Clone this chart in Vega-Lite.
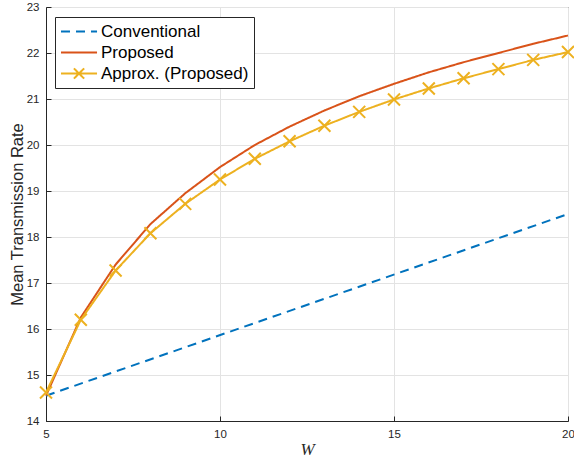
{
  "$schema": "https://vega.github.io/schema/vega-lite/v6.json",
  "width": 522,
  "height": 414,
  "autosize": "none",
  "padding": {"left": 46, "top": 7, "right": 6, "bottom": 40},
  "background": "white",
  "config": {
    "view": {"stroke": "#262626", "strokeWidth": 1},
    "font": "Liberation Sans",
    "axis": {
      "labelFont": "Liberation Sans",
      "labelFontSize": 11.5,
      "labelColor": "#262626",
      "domainColor": "#262626",
      "tickColor": "#262626",
      "gridColor": "#e3e3e3",
      "gridOpacity": 1,
      "titleColor": "#262626",
      "titleFontWeight": "normal"
    }
  },
  "data": {
    "values": [
      {"W": 5, "rate": 14.55, "series": "Conventional"},
      {"W": 20, "rate": 18.5, "series": "Conventional"},
      {"W": 5, "rate": 14.55, "series": "Proposed"},
      {"W": 6, "rate": 16.25, "series": "Proposed"},
      {"W": 7, "rate": 17.4, "series": "Proposed"},
      {"W": 8, "rate": 18.28, "series": "Proposed"},
      {"W": 9, "rate": 18.95, "series": "Proposed"},
      {"W": 10, "rate": 19.52, "series": "Proposed"},
      {"W": 11, "rate": 20.0, "series": "Proposed"},
      {"W": 12, "rate": 20.4, "series": "Proposed"},
      {"W": 13, "rate": 20.75, "series": "Proposed"},
      {"W": 14, "rate": 21.06, "series": "Proposed"},
      {"W": 15, "rate": 21.33, "series": "Proposed"},
      {"W": 16, "rate": 21.58, "series": "Proposed"},
      {"W": 17, "rate": 21.8, "series": "Proposed"},
      {"W": 18, "rate": 22.0, "series": "Proposed"},
      {"W": 19, "rate": 22.2, "series": "Proposed"},
      {"W": 20, "rate": 22.38, "series": "Proposed"},
      {"W": 5, "rate": 14.62, "series": "Approx. (Proposed)"},
      {"W": 6, "rate": 16.2, "series": "Approx. (Proposed)"},
      {"W": 7, "rate": 17.27, "series": "Approx. (Proposed)"},
      {"W": 8, "rate": 18.08, "series": "Approx. (Proposed)"},
      {"W": 9, "rate": 18.72, "series": "Approx. (Proposed)"},
      {"W": 10, "rate": 19.25, "series": "Approx. (Proposed)"},
      {"W": 11, "rate": 19.7, "series": "Approx. (Proposed)"},
      {"W": 12, "rate": 20.08, "series": "Approx. (Proposed)"},
      {"W": 13, "rate": 20.42, "series": "Approx. (Proposed)"},
      {"W": 14, "rate": 20.72, "series": "Approx. (Proposed)"},
      {"W": 15, "rate": 20.99, "series": "Approx. (Proposed)"},
      {"W": 16, "rate": 21.23, "series": "Approx. (Proposed)"},
      {"W": 17, "rate": 21.45, "series": "Approx. (Proposed)"},
      {"W": 18, "rate": 21.65, "series": "Approx. (Proposed)"},
      {"W": 19, "rate": 21.85, "series": "Approx. (Proposed)"},
      {"W": 20, "rate": 22.02, "series": "Approx. (Proposed)"}
    ]
  },
  "encoding": {
    "x": {
      "field": "W",
      "type": "quantitative",
      "scale": {"domain": [5, 20], "nice": false, "zero": false},
      "axis": {
        "values": [5, 10, 15, 20],
        "title": "W",
        "titleFont": "Liberation Serif",
        "titleFontStyle": "italic",
        "titleFontSize": 17,
        "titlePadding": 2,
        "tickSize": -5,
        "labelPadding": 12,
        "labelFlush": false
      }
    },
    "y": {
      "field": "rate",
      "type": "quantitative",
      "scale": {"domain": [14, 23], "nice": false, "zero": false},
      "axis": {
        "values": [14, 15, 16, 17, 18, 19, 20, 21, 22, 23],
        "title": "Mean Transmission Rate",
        "titleFontSize": 16.5,
        "titlePadding": 1,
        "tickSize": -5,
        "labelPadding": 12,
        "labelFlush": false
      }
    }
  },
  "layer": [
    {
      "mark": {"type": "line", "strokeWidth": 2},
      "encoding": {
        "color": {
          "field": "series",
          "type": "nominal",
          "sort": null,
          "scale": {
            "domain": ["Conventional", "Proposed", "Approx. (Proposed)"],
            "range": ["#0072BD", "#D95319", "#EDB120"]
          },
          "legend": {
            "title": null,
            "orient": "none",
            "legendX": 9,
            "legendY": 10,
            "strokeColor": "#262626",
            "fillColor": "white",
            "padding": 5,
            "labelFontSize": 17,
            "labelFont": "Liberation Sans",
            "labelColor": "#000000",
            "labelOffset": 22,
            "symbolType": "M-1,0H3.24",
            "symbolSize": 289,
            "symbolStrokeWidth": 2,
            "rowPadding": 3,
            "encode": {
              "symbols": {
                "update": {
                  "shape": {"signal": "datum.value === 'Approx. (Proposed)' ? 'M-1,0H3.24M0.52,-0.6L1.72,0.6M0.52,0.6L1.72,-0.6' : 'M-1,0H3.24'"}
                }
              }
            }
          }
        },
        "strokeDash": {
          "field": "series",
          "type": "nominal",
          "sort": null,
          "scale": {
            "domain": ["Conventional", "Proposed", "Approx. (Proposed)"],
            "range": [[9, 6], [1, 0], [1, 0]]
          },
          "legend": {
            "title": null,
            "orient": "none",
            "legendX": 9,
            "legendY": 10
          }
        }
      }
    },
    {
      "transform": [{"filter": "datum.series === 'Approx. (Proposed)'"}],
      "mark": {
        "type": "point",
        "shape": "M-1,-1L1,1M-1,1L1,-1",
        "filled": false,
        "size": 144,
        "strokeWidth": 2,
        "color": "#EDB120",
        "opacity": 1
      }
    }
  ]
}
